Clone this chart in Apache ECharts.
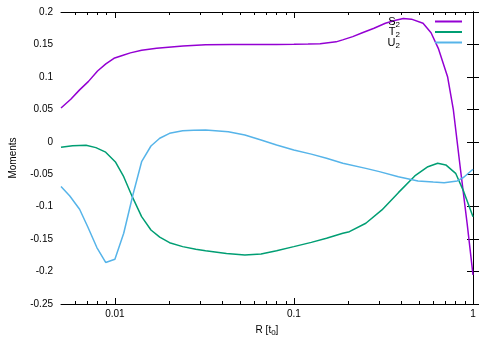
<!DOCTYPE html>
<html>
<head>
<meta charset="utf-8">
<script src="https://cdn.jsdelivr.net/npm/echarts@6/dist/echarts.min.js"></script>
<style>
html,body{margin:0;padding:0;background:#fff;}
#chart{width:491px;height:343px;}
</style>
</head>
<body>
<div id="chart"></div>
<script>
// ---- data ----
const s2R   = [0.005, 0.00567, 0.00635, 0.0071, 0.0080, 0.0089, 0.00988, 0.0110, 0.0122, 0.0141, 0.0171, 0.024, 0.0321, 0.045, 0.06, 0.08, 0.10, 0.12, 0.14, 0.172, 0.187, 0.213, 0.241, 0.28, 0.324, 0.365, 0.408, 0.453, 0.526, 0.583, 0.640, 0.721, 0.777, 0.852, 0.927, 1.0];
const s2Val = [0.052, 0.0655, 0.080, 0.0927, 0.109, 0.120, 0.1287, 0.133, 0.137, 0.141, 0.144, 0.1476, 0.1496, 0.1498, 0.150, 0.150, 0.1502, 0.1505, 0.151, 0.154, 0.157, 0.162, 0.168, 0.175, 0.1826, 0.187, 0.190, 0.189, 0.1826, 0.168, 0.144, 0.1003, 0.049, -0.0435, -0.1256, -0.205];

const t2R   = [0.005, 0.0058, 0.0069, 0.00783, 0.00888, 0.0101, 0.0112, 0.0125, 0.0141, 0.0159, 0.0178, 0.0202, 0.0239, 0.0283, 0.0321, 0.042, 0.0532, 0.0655, 0.08, 0.0998, 0.125, 0.152, 0.1875, 0.204, 0.252, 0.31, 0.383, 0.473, 0.56, 0.635, 0.705, 0.80, 0.888, 1.0];
const t2Val = [-0.0085, -0.006, -0.0054, -0.009, -0.016, -0.0316, -0.0538, -0.0846, -0.1154, -0.136, -0.147, -0.1555, -0.1616, -0.1657, -0.168, -0.172, -0.1745, -0.173, -0.168, -0.1616, -0.155, -0.1487, -0.141, -0.1385, -0.1256, -0.105, -0.0784, -0.0527, -0.0384, -0.0331, -0.0357, -0.0486, -0.0769, -0.1154];

const u2R   = [0.005, 0.0056, 0.00635, 0.00705, 0.00793, 0.00888, 0.0100, 0.0112, 0.0126, 0.0141, 0.0159, 0.0178, 0.0202, 0.0239, 0.0275, 0.0321, 0.043, 0.0532, 0.0655, 0.08, 0.0998, 0.125, 0.152, 0.1875, 0.252, 0.3, 0.383, 0.493, 0.6, 0.69, 0.817, 0.888, 1.0];
const u2Val = [-0.069, -0.0835, -0.104, -0.131, -0.163, -0.186, -0.181, -0.141, -0.082, -0.0307, -0.0065, 0.0054, 0.013, 0.017, 0.0177, 0.018, 0.0156, 0.0105, 0.0028, -0.005, -0.0126, -0.019, -0.0254, -0.033, -0.041, -0.046, -0.0538, -0.0604, -0.062, -0.063, -0.0604, -0.0547, -0.0424];

const seriesNames = ['S2', 'T2', 'U2'];
const seriesColors = ['#9400d3', '#009e73', '#56b4e9'];

const xMin = 0.005, xMax = 1;
const majorTicksR = [0.01, 0.1, 1];
const minorTicksR = [0.006, 0.007, 0.008, 0.009, 0.02, 0.03, 0.04, 0.05, 0.06, 0.07, 0.08, 0.09, 0.2, 0.3, 0.4, 0.5, 0.6, 0.7, 0.8, 0.9];

const yMin = -0.25, yMax = 0.2, yStep = 0.05;

// ---- build chart ----
const lg = v => Math.log10(v);
const pairs = (rs, vs) => rs.map((r, i) => [lg(r), vs[i]]);
const majorLog = majorTicksR.map(lg);
const minorLog = minorTicksR.map(lg);
const font = 'Liberation Sans, Arial, sans-serif';

function xAx(pos, ticks, len, labels, line) {
  return {
    type: 'value', position: pos, min: lg(xMin), max: lg(xMax),
    axisLine: { show: line, onZero: false, lineStyle: { color: '#000', width: 1 } },
    axisTick: { show: true, inside: true, length: len, customValues: ticks, lineStyle: { color: '#000', width: 1 } },
    axisLabel: labels ? {
      show: true, customValues: ticks, color: '#000', fontSize: 10, fontFamily: font, margin: 5,
      formatter: v => String(+Math.pow(10, v).toPrecision(3))
    } : { show: false },
    splitLine: { show: false }
  };
}

const bottomMajor = xAx('bottom', majorLog, 6, true, true);
bottomMajor.name = 'R [t{sub|0}]';
bottomMajor.nameLocation = 'middle';
bottomMajor.nameGap = 19;
bottomMajor.nameTextStyle = {
  color: '#000', fontSize: 10, fontFamily: font,
  rich: { sub: { fontSize: 8, fontFamily: font, color: '#000', padding: [6, 0, 0, 0] } }
};

const chart = echarts.init(document.getElementById('chart'), null, { renderer: 'canvas' });
chart.setOption({
  animation: false,
  backgroundColor: '#fff',
  grid: { left: 53, right: 18, top: 12, bottom: 39, containLabel: false },
  legend: {
    data: seriesNames,
    orient: 'vertical',
    align: 'right',
    right: 24,
    top: 11,
    itemGap: -2,
    itemWidth: 27,
    itemHeight: 2,
    icon: 'rect',
    formatter: n => n[0] + '{sub|' + n.slice(1) + '}',
    textStyle: {
      color: '#000', fontSize: 11, fontFamily: font, lineHeight: 10, padding: [0, 30, 0, 0],
      rich: { sub: { fontSize: 8, fontFamily: font, color: '#000', padding: [6, 0, 0, 0] } }
    }
  },
  xAxis: [
    bottomMajor,
    xAx('bottom', minorLog, 3, false, false),
    xAx('top', majorLog, 6, false, true),
    xAx('top', minorLog, 3, false, false)
  ],
  yAxis: [
    {
      type: 'value', position: 'left', min: yMin, max: yMax, interval: yStep,
      name: 'Moments', nameLocation: 'middle', nameGap: 43,
      nameTextStyle: { color: '#000', fontSize: 10, fontFamily: font },
      axisLine: { show: true, lineStyle: { color: '#000', width: 1 } },
      axisTick: { show: true, inside: true, length: 6, lineStyle: { color: '#000' } },
      axisLabel: { color: '#000', fontSize: 10, fontFamily: font, margin: 8, formatter: v => String(+v.toFixed(2)) },
      splitLine: { show: false }
    },
    {
      type: 'value', position: 'right', min: yMin, max: yMax, interval: yStep,
      axisLine: { show: true, lineStyle: { color: '#000', width: 1 } },
      axisTick: { show: true, inside: true, length: 6, lineStyle: { color: '#000' } },
      axisLabel: { show: false },
      splitLine: { show: false }
    }
  ],
  series: [
    { name: seriesNames[0], type: 'line', data: pairs(s2R, s2Val) },
    { name: seriesNames[1], type: 'line', data: pairs(t2R, t2Val) },
    { name: seriesNames[2], type: 'line', data: pairs(u2R, u2Val) }
  ].map((s, i) => Object.assign(s, {
    xAxisIndex: 0, yAxisIndex: 0, showSymbol: false, symbol: 'none', smooth: false,
    color: seriesColors[i],
    lineStyle: { color: seriesColors[i], width: 1.5 },
    clip: true
  }))
});
</script>
</body>
</html>
